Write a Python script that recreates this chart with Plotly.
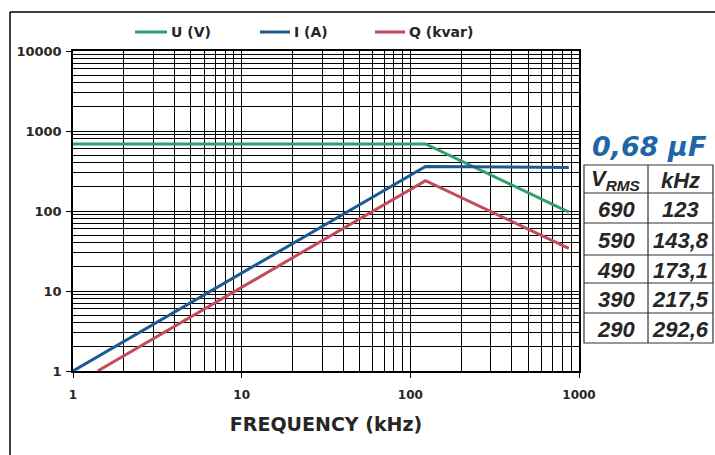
import plotly.graph_objects as go

# ---- data ----
series_names = ["U (V)", "I (A)", "Q (kvar)"]
freq_u = [1, 123, 870]
u_vals = [690, 690, 97]
freq_i = [1, 123, 870]
i_vals = [1, 360, 350]
freq_q = [1.4, 123, 870]
q_vals = [1, 240, 34]

cap_label = "0,68 µF"
table_header = ["V<sub>RMS</sub>", "kHz"]
v_rms = ["690", "590", "490", "390", "290"]
khz = ["123", "143,8", "173,1", "217,5", "292,6"]

x_ticks = [1, 10, 100, 1000]
y_ticks = [1, 10, 100, 1000, 10000]

W, H = 715, 455
L, R, T, B = 73, 579, 51, 371  # plot area in px

GREEN = "#2f9f6c"
BLUE = "#1d5a95"
RED = "#c24b5b"
COLORS = [GREEN, BLUE, RED]
FONT = "DejaVu Sans, Arial, sans-serif"
TFONT = "Liberation Sans, Arial, sans-serif"
TXT = "#262626"

fig = go.Figure()
for name, xs, ys, col in zip(series_names, [freq_u, freq_i, freq_q],
                             [u_vals, i_vals, q_vals], COLORS):
    fig.add_trace(go.Scatter(x=xs, y=ys, mode="lines", name=name, showlegend=False,
                             line=dict(color=col, width=3)))


def px(xp):
    return (xp - L) / (R - L)


def py(yp):
    return (B - yp) / (B - T)


shapes = []
annotations = []
# outer frame (top and left)
shapes.append(dict(type="line", xref="paper", yref="paper", x0=px(10), x1=px(715),
                   y0=py(12), y1=py(12), line=dict(color="black", width=1.5)))
shapes.append(dict(type="line", xref="paper", yref="paper", x0=px(10), x1=px(10),
                   y0=py(12), y1=py(455), line=dict(color="black", width=1.5)))

# legend (drawn manually for exact spacing)
leg_x = [135, 260, 375]
leg_len = [32, 30, 30]
for name, col, lx, ll in zip(series_names, COLORS, leg_x, leg_len):
    shapes.append(dict(type="line", xref="paper", yref="paper", x0=px(lx), x1=px(lx + ll),
                       y0=py(32), y1=py(32), line=dict(color=col, width=3)))
    annotations.append(dict(xref="paper", yref="paper", x=px(lx + ll + 2), y=py(32),
                            text=f"<b>{name}</b>", showarrow=False,
                            xanchor="left", yanchor="middle",
                            font=dict(family=FONT, size=14, color=TXT)))

# table
tx0, tx1, tx2 = 584, 648, 713
row_edges = [165, 193, 223, 255, 283, 313, 343]
shapes.append(dict(type="rect", xref="paper", yref="paper", x0=px(tx0), x1=px(tx2),
                   y0=py(row_edges[0]), y1=py(row_edges[-1]),
                   line=dict(color="#333", width=1.2)))
shapes.append(dict(type="line", xref="paper", yref="paper", x0=px(tx1), x1=px(tx1),
                   y0=py(row_edges[0]), y1=py(row_edges[-1]),
                   line=dict(color="#333", width=1.2)))
for ye in row_edges[1:-1]:
    shapes.append(dict(type="line", xref="paper", yref="paper", x0=px(tx0), x1=px(tx2),
                       y0=py(ye), y1=py(ye), line=dict(color="#333", width=1.2)))

rows = [table_header] + [[a, b] for a, b in zip(v_rms, khz)]
for r, (a, b) in enumerate(rows):
    yc = (row_edges[r] + row_edges[r + 1]) / 2 + 1
    for txt, xc in ((a, (tx0 + tx1) / 2), (b, (tx1 + tx2) / 2)):
        annotations.append(dict(xref="paper", yref="paper", x=px(xc), y=py(yc),
                                text=f"<b><i>{txt}</i></b>", showarrow=False,
                                xanchor="center", yanchor="middle",
                                font=dict(family=TFONT, size=22, color=TXT)))

annotations.append(dict(xref="paper", yref="paper", x=px(649), y=py(146),
                        text=f"<b><i>{cap_label}</i></b>", showarrow=False,
                        xanchor="center", yanchor="middle",
                        font=dict(family=FONT, size=27, color="#1f66a8")))

axis_common = dict(
    type="log",
    showgrid=True, gridcolor="black", gridwidth=1.2,
    showline=True, linecolor="black", linewidth=1.5, mirror=True,
    ticks="outside", ticklen=5, tickcolor="black",
    minor=dict(dtick="D1", showgrid=True, gridcolor="black", gridwidth=1, ticks=""),
    zeroline=False,
)

fig.update_layout(
    width=W, height=H,
    margin=dict(l=L, r=W - R, t=T, b=H - B, autoexpand=False),
    paper_bgcolor="white", plot_bgcolor="white",
    font=dict(family=FONT, color=TXT),
    showlegend=False,
    xaxis=dict(axis_common, range=[0, 3],
               tickvals=x_ticks, ticktext=[f"<b>{v}</b>" for v in x_ticks],
               tickfont=dict(family=FONT, size=12, color=TXT),
               ticklabelstandoff=7,
               title=dict(text="<b>FREQUENCY (kHz)</b>",
                          font=dict(family=FONT, size=19, color=TXT),
                          standoff=17)),
    yaxis=dict(axis_common, range=[0, 4],
               tickvals=y_ticks, ticktext=[f"<b>{v}</b>" for v in y_ticks],
               tickfont=dict(family=FONT, size=13, color=TXT),
               ticklabelstandoff=2),
    shapes=shapes,
    annotations=annotations,
)

fig.write_html("out.html", config={"displayModeBar": False},
               post_script="document.body.style.margin='0';document.body.style.overflow='hidden';")
